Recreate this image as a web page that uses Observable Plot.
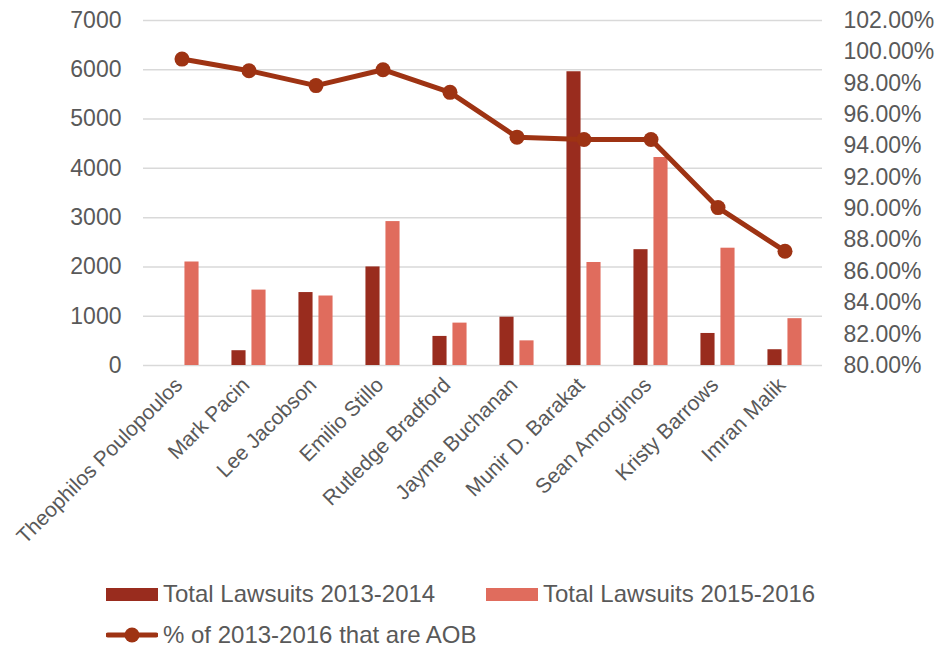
<!DOCTYPE html>
<html>
<head>
<meta charset="utf-8">
<script src="https://cdn.jsdelivr.net/npm/d3@7"></script>
<script src="https://cdn.jsdelivr.net/npm/@observablehq/plot@0.6"></script>
<style>
  html, body { margin: 0; padding: 0; background: #fff; }
  #wrap { position: relative; width: 948px; height: 649px; font-family: "Liberation Sans", Arial, sans-serif; color: #595959; }
  .lg { position: absolute; display: flex; align-items: center; font-size: 24px; color: #595959; white-space: nowrap; }
  .sw { width: 52px; height: 13px; margin-right: 5px; }
</style>
</head>
<body>
<div id="wrap">
  <div id="chart"></div>
  <div class="lg" style="left:106px; top:580px;"><span class="sw" style="background:#992C1E"></span>Total Lawsuits 2013-2014</div>
  <div class="lg" style="left:486px; top:580px;"><span class="sw" style="background:#E06C5D"></span>Total Lawsuits 2015-2016</div>
  <div class="lg" style="left:106px; top:621px;">
    <svg width="52" height="20" style="margin-right:5px"><line x1="2" y1="10" x2="50" y2="10" stroke="#9E3313" stroke-width="5" stroke-linecap="round"/><circle cx="26" cy="10" r="7.5" fill="#9E3313"/></svg>% of 2013-2016 that are AOB</div>
</div>
<script>
const names = ["Theophilos Poulopoulos","Mark Pacin","Lee Jacobson","Emilio Stillo","Rutledge Bradford","Jayme Buchanan","Munir D. Barakat","Sean Amorginos","Kristy Barrows","Imran Malik"];
const lawsuits2013 = [0, 300, 1480, 2000, 590, 980, 5960, 2350, 650, 320];
const lawsuits2015 = [2100, 1530, 1410, 2920, 860, 500, 2090, 4220, 2380, 950];
const pctAOB = [99.54, 98.80, 97.85, 98.86, 97.42, 94.56, 94.41, 94.41, 90.07, 87.29];
const leftTicks = [0, 1000, 2000, 3000, 4000, 5000, 6000, 7000];
const rightTicks = [80, 82, 84, 86, 88, 90, 92, 94, 96, 98, 100, 102];

const leftMax = 7000, pMin = 80, pMax = 102;
const toLeft = p => (p - pMin) / (pMax - pMin) * leftMax;

const rows = names.map((n, i) => ({name: n, a: lawsuits2013[i], b: lawsuits2015[i], p: pctAOB[i]}));

const dark = "#992C1E", light = "#E06C5D", lineC = "#9E3313", txt = "#595959";
const step = (822 - 143) / names.length;
const half = step / 2;

const chart = Plot.plot({
  width: 948,
  height: 570,
  marginTop: 20,
  marginBottom: 205,
  marginLeft: 143,
  marginRight: 126,
  style: {fontFamily: "Liberation Sans, Arial, sans-serif", fontSize: "23px", color: txt, background: "#fff"},
  x: {type: "band", domain: names, padding: 0, label: null},
  y: {domain: [0, leftMax], label: null},
  marks: [
    Plot.gridY(leftTicks, {stroke: "#d9d9d9", strokeOpacity: 1, strokeWidth: 1.5}),
    Plot.barY(rows, {x: "name", y: "a", fill: dark, insetLeft: half - 17.5, insetRight: half + 2.5}),
    Plot.barY(rows, {x: "name", y: "b", fill: light, insetLeft: half + 2.5, insetRight: half - 17.5}),
    Plot.line(rows, {x: "name", y: d => toLeft(d.p), stroke: lineC, strokeWidth: 5, strokeLinejoin: "round"}),
    Plot.dot(rows, {x: "name", y: d => toLeft(d.p), r: 7.5, fill: lineC}),
    Plot.axisY(leftTicks, {anchor: "left", tickSize: 0, tickPadding: 22, fontSize: 23, label: null, tickFormat: d => String(d)}),
    Plot.axisY(rightTicks.map(toLeft), {anchor: "right", tickSize: 0, tickPadding: 21, fontSize: 23, label: null,
      tickFormat: (d, i) => rightTicks[i].toFixed(2) + "%"}),
    Plot.axisX({tickSize: 0, tickRotate: -45, tickPadding: 10, dx: -3, dy: 6, fontSize: 21, label: null})
  ]
});
document.getElementById("chart").appendChild(chart);
</script>
</body>
</html>
